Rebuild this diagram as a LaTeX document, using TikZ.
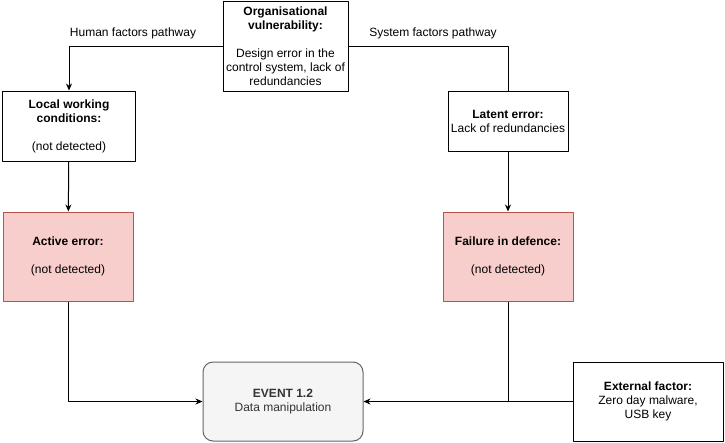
\documentclass[tikz,border=0pt]{standalone}
\usepackage{fontspec}
\setmainfont{Liberation Sans}
\usetikzlibrary{positioning,arrows.meta}
\definecolor{errfill}{HTML}{F8CECC}
\definecolor{errline}{HTML}{B85450}
\definecolor{evfill}{HTML}{F5F5F5}
\definecolor{evline}{HTML}{666666}
\definecolor{evtext}{HTML}{333333}
\begin{document}
\begin{tikzpicture}[x=1pt,y=-1pt,>={Stealth[length=7pt,width=6pt]},
	font=\fontsize{12}{14}\selectfont, line join=round,
	box/.style={draw, line width=1pt, align=center, inner sep=2pt},
	redbox/.style={box, draw=errline, fill=errfill},
	eventbox/.style={box, draw=evline, fill=evfill, text=evtext, rounded corners=10pt},
	conn/.style={line width=1pt}]
	\useasboundingbox (0,0) rectangle (725,442);
	
	\node[box, minimum width=125, minimum height=90] (org) at (285.5,46)
	{\textbf{Organisational}\\\textbf{vulnerability:}\\[14pt]Design error in the\\control system, lack of\\redundancies};
	\node[box, minimum width=133, minimum height=70] (local) at (69,126)
	{\textbf{Local working}\\\textbf{conditions:}\\[14pt](not detected)};
	\node[box, minimum width=120, minimum height=60] (latent) at (508,121)
	{\textbf{Latent error:}\\Lack of redundancies};
	\node[redbox, minimum width=130, minimum height=89] (active) at (68,256.5)
	{\textbf{Active error:}\\[14pt](not detected)};
	\node[redbox, minimum width=130, minimum height=89] (failure) at (508,256.5)
	{\textbf{Failure in defence:}\\[14pt](not detected)};
	\node[eventbox, minimum width=160, minimum height=79] (event) at (283,401.5)
	{\textbf{EVENT 1.2}\\Data manipulation};
	\node[box, minimum width=150, minimum height=79] (ext) at (648,401.5)
	{\textbf{External factor:}\\Zero day malware,\\USB key};
	
	% nhãn hai nhánh
	\node (hlab) at (133,33) {Human factors pathway};
	\node (slab) at (433,33) {System factors pathway};
	\coordinate (join) at (failure.south |- event.east);
	
	\draw[conn,->] (org.west) -| (local.north);
	\draw[conn] (org.east) -| (latent.north);
	\draw[conn,->] (local) -- (active);
	\draw[conn,->] (latent) -- (failure);
	\draw[conn,->] (active.south) |- (event.west);
	\draw[conn] (failure.south) -- (join);
	\draw[conn,->] (ext.west) -- (event.east);
\end{tikzpicture}
\end{document}
